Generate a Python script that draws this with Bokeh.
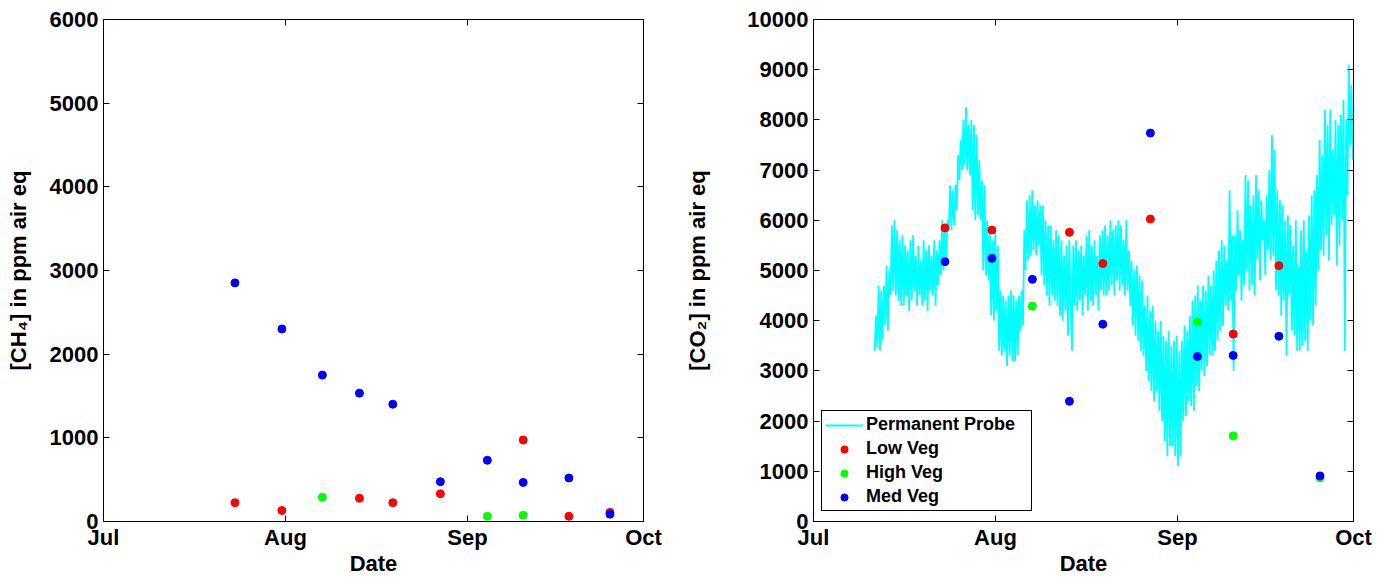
import numpy as np
import pandas as pd
from bokeh.plotting import figure
from bokeh.layouts import row
from bokeh.models import (ColumnDataSource, Range1d, FixedTicker, DatetimeTickFormatter,
                          DatetimeAxis, LinearAxis, Legend, LegendItem)
from bokeh.embed import file_html
from bokeh.resources import INLINE

nan = float("nan")

# ---------------- data ----------------
month_ticks = ["2012-07-01", "2012-08-01", "2012-09-01", "2012-10-01"]
month_labels = ["Jul", "Aug", "Sep", "Oct"]

ch4_ticks = [0, 1000, 2000, 3000, 4000, 5000, 6000]
co2_ticks = [0, 1000, 2000, 3000, 4000, 5000, 6000, 7000, 8000, 9000, 10000]

sample_dates = ["2012-07-23 09:30", "2012-07-31 09:30", "2012-08-07 07:00", "2012-08-13 14:30",
                "2012-08-19 07:00", "2012-08-27 09:30", "2012-09-04 09:30", "2012-09-10 12:00",
                "2012-09-18 07:00", "2012-09-25 07:00"]

ch4_low = [225, 132, nan, 278, 225, 331, nan, 974, 62, 110]
ch4_high = [nan, nan, 291, nan, nan, nan, 62, 75, nan, nan]
ch4_med = [2852, 2301, 1750, 1534, 1402, 476, 732, 467, 520, 88]

co2_low = [5849, 5805, nan, 5761, 5139, 6025, nan, 3734, 5095, nan]
co2_high = [nan, nan, 4290, nan, nan, nan, 3975, 1706, nan, 870]
co2_med = [5176, 5242, 4824, 2394, 3931, 7738, 3287, 3309, 3690, 908]

probe_start = "2012-07-11 10:00"
probe_end = "2012-09-30 21:00"
probe_co2 = [
    3400, 4100, 3450, 4700, 3400, 4600,
    3600, 4700, 3900, 5100, 3800, 5000,
    4500, 5900, 4600, 6000, 4500, 5800,
    4400, 5600, 4300, 5700, 4300, 5500,
    4500, 5400, 4200, 5600, 4400, 5700,
    4600, 5300, 4300, 5500, 4500, 5200,
    4300, 5600, 4400, 5400, 4200, 5500,
    4600, 5300, 4500, 5600, 4300, 5400,
    4700, 5600, 4900, 6000, 5000, 5900,
    5100, 6000, 5800, 6700, 5800, 6600,
    5900, 6700, 6200, 7300, 6800, 7600,
    7000, 8000, 7100, 8250, 7000, 7900,
    6900, 8000, 6200, 7900, 6000, 7700,
    6100, 7200, 6000, 6800, 5000, 6700,
    4900, 6000, 4800, 5800, 4100, 5600,
    4000, 5800, 4200, 5500, 3400, 4600,
    3300, 4500, 3400, 4400, 3100, 4500,
    3300, 4600, 3200, 4500, 3200, 4400,
    3300, 4500, 3800, 4600, 3900, 5800,
    5000, 6400, 5200, 6500, 5300, 6600,
    5400, 6300, 5300, 6400, 5500, 6300,
    4900, 6300, 4700, 6000, 4500, 5900,
    4300, 5900, 4500, 5600, 4400, 5800,
    4300, 5700, 4100, 5600, 4000, 5300,
    4200, 5500, 3700, 5600, 4300, 3400,
    5500, 4300, 5600, 4200, 5400, 4400,
    5500, 4100, 5300, 4500, 5700, 4200,
    5800, 4400, 5500, 4300, 5600, 4500,
    5300, 4200, 5700, 4600, 5800, 4500,
    5900, 4500, 5700, 4600, 6000, 4700,
    5800, 4500, 5900, 4800, 6000, 4600,
    5900, 4700, 5600, 4500, 6000, 4600,
    5400, 4300, 5200, 3900, 5000, 3700,
    5100, 3600, 4900, 3400, 4800, 3300,
    4300, 3000, 4500, 2800, 4200, 2600,
    4300, 2400, 4000, 2600, 3800, 2200,
    4000, 2000, 3700, 1600, 3600, 1300,
    3800, 1500, 3500, 1500, 3600, 1300,
    3700, 1100, 3400, 1300, 3600, 2000,
    3900, 2100, 3800, 2400, 4100, 2300,
    4400, 2200, 4500, 2700, 4700, 2600,
    4400, 3000, 4700, 2900, 4600, 3100,
    4900, 3300, 4700, 3300, 5000, 3400,
    5200, 3600, 5400, 3800, 5600, 3900,
    5500, 4300, 5200, 4200, 6600, 4400,
    5700, 3000, 5700, 4600, 6200, 4900,
    5800, 4400, 5600, 4700, 6900, 5000,
    6800, 4600, 6300, 4700, 6500, 4500,
    6900, 5200, 6600, 4800, 6400, 5600,
    6000, 4900, 6500, 5400, 7000, 5200,
    7700, 5300, 7400, 4600, 6600, 4500,
    6400, 4100, 6300, 4400, 6000, 3300,
    6100, 4500, 5900, 3800, 5500, 3700,
    6000, 3400, 5100, 3400, 5800, 3500,
    6000, 3600, 5400, 3400, 6100, 4000,
    6500, 3900, 6600, 4300, 6900, 5000,
    7600, 5400, 7300, 5300, 8200, 5700,
    7900, 5200, 8200, 5900, 7400, 6100,
    8000, 5100, 7900, 5500, 8100, 6000,
    8400, 3400, 8000, 6500, 9100, 7500,
    8700, 7200,
]

# ---------------- styling ----------------
FONT = "Liberation Sans"
TICK_SIZE = "22px"
LABEL_SIZE = "22px"

month_ms = [pd.Timestamp(t).value / 1e6 for t in month_ticks]
x_start = pd.Timestamp(month_ticks[0])
x_end = pd.Timestamp(month_ticks[-1])

fmt = "%b"
date_fmt = DatetimeTickFormatter(microseconds=fmt, milliseconds=fmt, seconds=fmt, minsec=fmt,
                                 minutes=fmt, hourmin=fmt, hours=fmt, days=fmt, months=fmt,
                                 years=fmt)

sample_dt = pd.to_datetime(sample_dates)
probe_dt = pd.date_range(start=probe_start, end=probe_end, periods=len(probe_co2))


def style_axis(ax, show_labels=True):
    ax.axis_line_color = "black"
    ax.axis_line_width = 1
    ax.major_tick_line_color = "black"
    ax.major_tick_line_width = 1
    ax.major_tick_in = 6
    ax.major_tick_out = 0
    ax.minor_tick_line_color = None
    ax.major_label_text_font = FONT
    ax.major_label_text_font_style = "bold"
    ax.axis_label_text_font = FONT
    ax.axis_label_text_font_style = "bold"
    ax.axis_label_text_font_size = LABEL_SIZE
    ax.axis_label_text_color = "black"
    if show_labels:
        ax.major_label_text_font_size = TICK_SIZE
        ax.major_label_text_color = "black"
    else:
        ax.major_label_text_font_size = "1px"
        ax.major_label_text_color = None
        ax.major_label_standoff = 0


def make_fig(width, ymax, yticks, ylabel, min_left, min_right, ylabel_standoff):
    p = figure(width=width, height=578, x_axis_type="datetime",
               x_range=Range1d(x_start, x_end), y_range=Range1d(0, ymax),
               output_backend="svg", toolbar_location=None,
               min_border_left=min_left, min_border_right=min_right,
               min_border_top=19, min_border_bottom=57,
               background_fill_color="white", border_fill_color="white",
               outline_line_color="black", outline_line_width=1, outline_line_alpha=1)
    p.grid.visible = False

    xa = p.xaxis[0]
    xa.ticker = FixedTicker(ticks=month_ms)
    xa.formatter = date_fmt
    xa.major_label_overrides = {ms: lab for ms, lab in zip(month_ms, month_labels)}
    xa.axis_label = "Date"
    style_axis(xa)
    xa.major_label_standoff = 3
    xa.axis_label_standoff = -2

    ya = p.yaxis[0]
    ya.ticker = FixedTicker(ticks=yticks)
    ya.axis_label = ylabel
    style_axis(ya)
    ya.major_label_standoff = 5
    ya.axis_label_standoff = ylabel_standoff

    right = LinearAxis(ticker=FixedTicker(ticks=yticks))
    style_axis(right, show_labels=False)
    p.add_layout(right, "right")

    top = DatetimeAxis(ticker=FixedTicker(ticks=month_ms))
    style_axis(top, show_labels=False)
    p.add_layout(top, "above")
    return p


# ---------------- left: CH4 ----------------
src_ch4 = ColumnDataSource(dict(date=sample_dt,
                                low=np.array(ch4_low, dtype=float),
                                high=np.array(ch4_high, dtype=float),
                                med=np.array(ch4_med, dtype=float)))

p1 = make_fig(663, 6000, ch4_ticks, "[CH\u2084] in ppm air eq", 103, 20, 16)
p1.scatter("date", "low", source=src_ch4, size=8, color="#ff0000")
p1.scatter("date", "high", source=src_ch4, size=8, color="#00ff00")
p1.scatter("date", "med", source=src_ch4, size=8, color="#0000ff")

# ---------------- right: CO2 ----------------
src_probe = ColumnDataSource(dict(date=probe_dt, co2=np.array(probe_co2, dtype=float)))
src_co2 = ColumnDataSource(dict(date=sample_dt,
                                low=np.array(co2_low, dtype=float),
                                high=np.array(co2_high, dtype=float),
                                med=np.array(co2_med, dtype=float)))

p2 = make_fig(715, 10000, co2_ticks, "[CO\u2082] in ppm air eq", 150, 25, 34)
r_probe = p2.line("date", "co2", source=src_probe, line_color="#00ffff", line_width=1.8)
r_low = p2.scatter("date", "low", source=src_co2, size=8, color="#ff0000")
r_high = p2.scatter("date", "high", source=src_co2, size=8, color="#00ff00")
r_med = p2.scatter("date", "med", source=src_co2, size=8, color="#0000ff")

legend = Legend(items=[LegendItem(label="Permanent Probe", renderers=[r_probe]),
                       LegendItem(label="Low Veg", renderers=[r_low]),
                       LegendItem(label="High Veg", renderers=[r_high]),
                       LegendItem(label="Med Veg", renderers=[r_med])],
                location=(8, 10), orientation="vertical",
                border_line_color="black", border_line_width=1, border_line_alpha=1,
                background_fill_color="white", background_fill_alpha=1,
                label_text_font=FONT, label_text_font_style="bold",
                label_text_font_size="18px", label_text_color="black",
                glyph_width=38, glyph_height=18, label_standoff=3, label_width=162,
                padding=3, spacing=3, margin=0)
p2.add_layout(legend)

layout = row(p1, p2)
open("out.html", "w").write(file_html(layout, INLINE))
